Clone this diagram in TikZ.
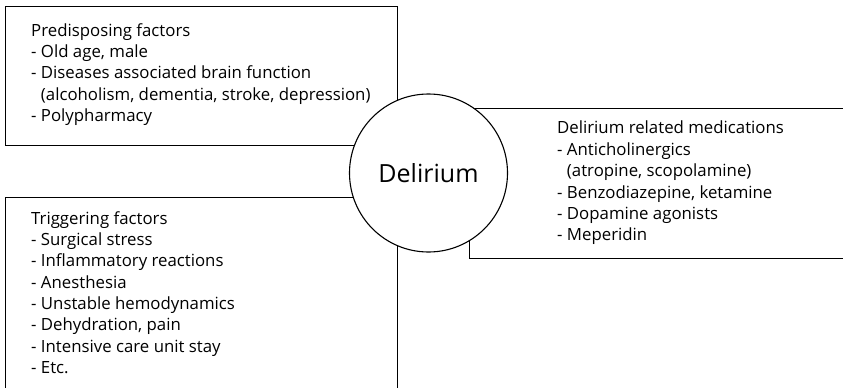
\documentclass[tikz,border=0pt]{standalone}
\usepackage{fontspec}
\setmainfont{Open Sans}
\begin{document}
\begin{tikzpicture}[x=1pt,y=-1pt,
  boxline/.style={draw=black,line width=1pt},
  listtext/.style={anchor=north west,align=left,inner sep=0pt,font=\fontsize{16.8}{21.35}\selectfont},
  hub/.style={circle,draw=black,line width=1.1pt,fill=white,minimum size=158pt,inner sep=0pt,font=\fontsize{25}{30}\selectfont}]
\useasboundingbox (0,0) rectangle (843,388);
\clip (0,0) rectangle (843,388);
\fill[white] (0,0) rectangle (843,388);
% boxes
\node[boxline,rectangle,minimum width=392pt,minimum height=139pt,inner sep=0pt,anchor=north west] (pre) at (5,6) {};
\node[boxline,rectangle,minimum width=392pt,minimum height=210pt,inner sep=0pt,anchor=north west] (trig) at (5,197) {};
\node[boxline,rectangle,minimum width=390pt,minimum height=150pt,inner sep=0pt,anchor=north west] (med) at (469,108) {};
% centre
\node[hub] (del) at (428.5,173) {Delirium};
% texts
\node[listtext] (pretext) at (31,23) {Predisposing factors\\
- Old age, male\\
- Diseases associated brain function\\
\phantom{- }(alcoholism, dementia, stroke, depression)\\
- Polypharmacy};
\node[listtext] (trigtext) at (31,211) {Triggering factors\\
- Surgical stress\\
- Inflammatory reactions\\
- Anesthesia\\
- Unstable hemodynamics\\
- Dehydration, pain\\
- Intensive care unit stay\\
- Etc.};
\node[listtext] (medtext) at (557,121) {Delirium related medications\\
- Anticholinergics\\
\phantom{- }(atropine, scopolamine)\\
- Benzodiazepine, ketamine\\
- Dopamine agonists\\
- Meperidin};
\end{tikzpicture}
\end{document}
